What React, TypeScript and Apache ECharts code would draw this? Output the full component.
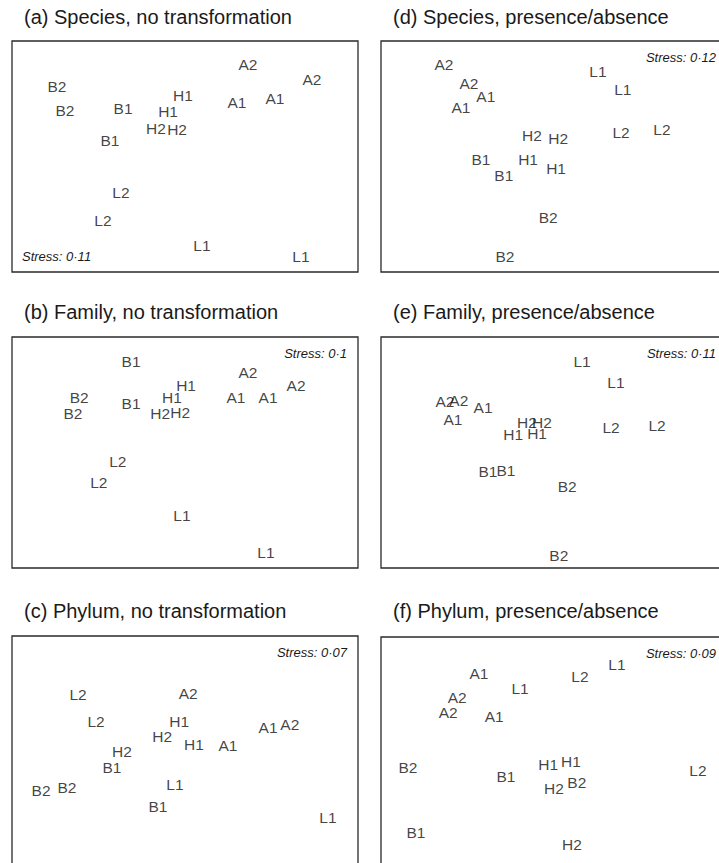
import React, { useEffect, useRef } from "react";
import * as echarts from "echarts";

// NMDS ordination scores (label, axis 1, axis 2), scaled 0–100 within each panel
const speciesNoTransform: [string, number, number][] = [
  ["A2", 68.2, 90.0], ["A2", 86.7, 83.5], ["B2", 13.0, 80.5], ["H1", 49.4, 76.2],
  ["A1", 65.0, 73.2], ["A1", 76.0, 75.3], ["B2", 15.3, 69.7], ["B1", 32.1, 70.6],
  ["H1", 45.1, 69.3], ["H2", 41.6, 62.3], ["H2", 47.7, 61.9], ["B1", 28.3, 57.1],
  ["L2", 31.5, 34.6], ["L2", 26.3, 22.1], ["L1", 54.9, 11.3], ["L1", 83.5, 6.9],
];
const familyNoTransform: [string, number, number][] = [
  ["B1", 34.4, 89.6], ["A2", 68.2, 84.8], ["H1", 50.3, 78.8], ["A2", 82.1, 79.2],
  ["B2", 19.4, 74.0], ["A1", 64.7, 74.0], ["A1", 74.0, 74.0], ["B1", 34.4, 71.4],
  ["H1", 46.2, 73.6], ["B2", 17.6, 66.7], ["H2", 42.8, 66.7], ["H2", 48.6, 67.5],
  ["L2", 30.6, 45.9], ["L2", 25.1, 36.8], ["L1", 49.1, 22.9], ["L1", 73.4, 6.5],
];
const phylumNoTransform: [string, number, number][] = [
  ["L2", 19.1, 74.5], ["A2", 50.9, 75.3], ["L2", 24.3, 63.2], ["H1", 48.3, 63.2],
  ["A1", 74.0, 60.6], ["A2", 80.3, 61.5], ["H2", 43.4, 56.7], ["H1", 52.6, 53.2],
  ["A1", 62.4, 52.8], ["H2", 31.8, 49.8], ["B1", 28.9, 42.9], ["B2", 8.4, 33.3],
  ["B2", 15.9, 34.2], ["L1", 47.1, 35.9], ["B1", 42.2, 26.4], ["L1", 91.3, 21.6],
];
const speciesPresence: [string, number, number][] = [
  ["A2", 18.2, 90.0], ["L1", 62.7, 87.0], ["A2", 25.4, 81.4], ["A1", 30.3, 75.8],
  ["L1", 69.9, 78.8], ["A1", 23.1, 71.0], ["H2", 43.6, 58.9], ["H2", 51.2, 58.0],
  ["L2", 69.4, 60.2], ["L2", 81.2, 61.9], ["B1", 28.9, 48.9], ["H1", 42.5, 48.9],
  ["B1", 35.5, 41.6], ["H1", 50.6, 44.6], ["B2", 48.3, 23.8], ["B2", 35.8, 6.9],
];
const familyPresence: [string, number, number][] = [
  ["L1", 58.1, 89.6], ["L1", 67.9, 80.1], ["A2", 18.5, 71.9], ["A2", 22.5, 72.7],
  ["A1", 29.5, 69.3], ["A1", 20.8, 64.1], ["H2", 42.2, 62.8], ["H2", 46.5, 63.2],
  ["H1", 38.2, 57.6], ["H1", 45.1, 58.4], ["L2", 66.5, 61.0], ["L2", 79.8, 61.9],
  ["B1", 30.9, 41.6], ["B1", 36.1, 42.0], ["B2", 53.8, 35.1], ["B2", 51.4, 5.6],
];
const phylumPresence: [string, number, number][] = [
  ["L1", 68.2, 87.9], ["A1", 28.3, 84.0], ["L2", 57.5, 83.1], ["L1", 40.2, 77.5],
  ["A2", 22.0, 73.6], ["A2", 19.4, 67.5], ["A1", 32.7, 65.8], ["B2", 7.8, 43.7],
  ["H1", 48.3, 44.6], ["H1", 54.9, 46.3], ["B1", 36.1, 39.8], ["H2", 50.0, 34.6],
  ["B2", 56.6, 37.2], ["L2", 91.6, 42.0], ["B1", 10.1, 15.2], ["H2", 55.2, 10.0],
];

const panelTitles = [
  "(a) Species, no transformation",
  "(b) Family, no transformation",
  "(c) Phylum, no transformation",
  "(d) Species, presence/absence",
  "(e) Family, presence/absence",
  "(f) Phylum, presence/absence",
];
const stressValues = ["Stress: 0·11", "Stress: 0·1", "Stress: 0·07", "Stress: 0·12", "Stress: 0·11", "Stress: 0·09"];

const FONT = "'Liberation Sans', Arial, Helvetica, sans-serif";
const INK = "#1a1a1a";

export default function App() {
  const ref = useRef<HTMLDivElement>(null);
  useEffect(() => {
    if (!ref.current) return;
    const chart = echarts.init(ref.current, undefined, { renderer: "svg" });

    const panels = [
      { data: speciesNoTransform, left: 12, top: 41, titleX: 24, titleY: 17 },
      { data: familyNoTransform, left: 12, top: 337, titleX: 24, titleY: 312 },
      { data: phylumNoTransform, left: 12, top: 636, titleX: 24, titleY: 611 },
      { data: speciesPresence, left: 381, top: 41, titleX: 393, titleY: 17 },
      { data: familyPresence, left: 381, top: 337, titleX: 393, titleY: 312 },
      { data: phylumPresence, left: 381, top: 637, titleX: 393, titleY: 611 },
    ];
    const W = 346;
    const H = 231;

    const graphics: any[] = [];
    panels.forEach((p, i) => {
      graphics.push({
        type: "text",
        x: p.titleX,
        y: p.titleY,
        style: {
          text: panelTitles[i],
          font: `20px ${FONT}`,
          fill: INK,
          textVerticalAlign: "middle",
        },
      });
      const isA = i === 0;
      graphics.push({
        type: "text",
        x: isA ? p.left + 10 : p.left + W - 11,
        y: isA ? p.top + H - 16 : p.top + 16,
        style: {
          text: stressValues[i],
          font: `italic 13px ${FONT}`,
          fill: INK,
          textAlign: isA ? "left" : "right",
          textVerticalAlign: "middle",
        },
      });
    });

    chart.setOption({
      animation: false,
      backgroundColor: "#ffffff",
      grid: panels.map((p) => ({
        left: p.left,
        top: p.top,
        width: W,
        height: H,
        show: true,
        borderColor: "#2a2a2a",
        borderWidth: 1.3,
        backgroundColor: "transparent",
      })),
      xAxis: panels.map((_, i) => ({
        gridIndex: i,
        type: "value",
        min: 0,
        max: 100,
        show: false,
      })),
      yAxis: panels.map((_, i) => ({
        gridIndex: i,
        type: "value",
        min: 0,
        max: 100,
        show: false,
      })),
      series: panels.map((p, i) => ({
        type: "scatter",
        xAxisIndex: i,
        yAxisIndex: i,
        symbolSize: 0,
        silent: true,
        data: p.data.map(([name, x, y]) => ({ name, value: [x, y] })),
        label: {
          show: true,
          position: "inside",
          formatter: "{b}",
          fontSize: 15.5,
          fontFamily: FONT,
          color: "#111111",
          textBorderWidth: 0,
        },
      })),
      graphic: graphics,
    });
    return () => chart.dispose();
  }, []);
  return (
    <div style={{ position: "absolute", left: 0, top: 0, width: 719, height: 863, overflow: "hidden", background: "#fff" }}>
      <div ref={ref} style={{ width: 750, height: 890 }} />
    </div>
  );
}
